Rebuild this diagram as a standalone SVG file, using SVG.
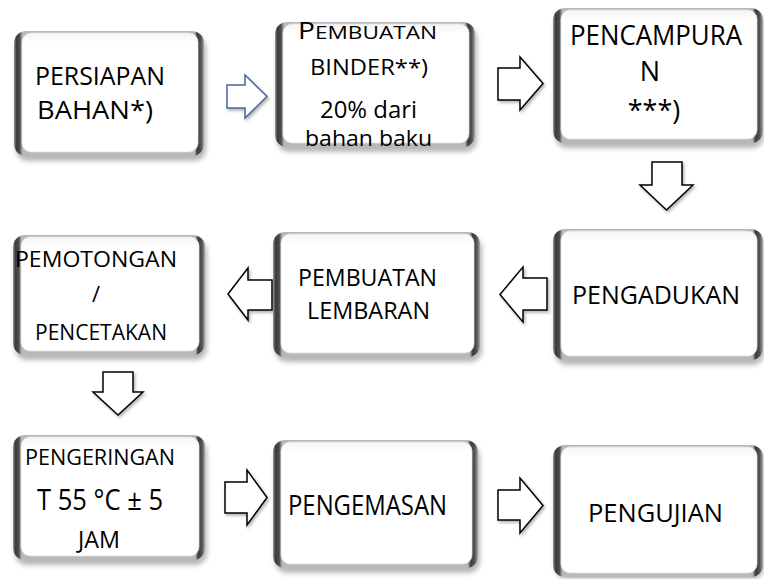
<svg xmlns="http://www.w3.org/2000/svg" width="764" height="579" viewBox="0 0 764 579">
<defs>
<linearGradient id="frameGrad" x1="0" y1="0" x2="1" y2="0">
<stop offset="0" stop-color="#9a9a9a"/>
<stop offset="0.012" stop-color="#3c3c3c"/>
<stop offset="0.03" stop-color="#4a4a4a"/>
<stop offset="0.045" stop-color="#b8b8b8"/>
<stop offset="0.95" stop-color="#b8b8b8"/>
<stop offset="0.965" stop-color="#3a3a3a"/>
<stop offset="0.985" stop-color="#555"/>
<stop offset="1" stop-color="#aaa"/>
</linearGradient>
<linearGradient id="innerGrad" x1="0" y1="0" x2="0" y2="1">
<stop offset="0" stop-color="#f4f4f4"/>
<stop offset="0.08" stop-color="#fff"/>
<stop offset="1" stop-color="#fff"/>
</linearGradient>
<filter id="blur" x="-10%" y="-10%" width="120%" height="130%">
<feGaussianBlur stdDeviation="2.5"/>
</filter>
<filter id="ashadow" x="-20%" y="-20%" width="150%" height="150%">
<feDropShadow dx="1.5" dy="2" stdDeviation="1.5" flood-color="#000" flood-opacity="0.3"/>
</filter>
</defs>
<style>
.shadow{fill:#7a7a7a;opacity:0.55;filter:url(#blur)}
.frame{fill:url(#frameGrad)}
.inner{fill:url(#innerGrad);stroke:#e2e2e2;stroke-width:0.8}
.t{font-family:"Open Sans","Noto Sans",sans-serif;fill:#000;text-anchor:middle}
.arr{fill:#fff;stroke:#000;stroke-width:1.5;stroke-linejoin:miter;filter:url(#ashadow)}
.arrb{fill:#fff;stroke:#44679b;stroke-width:1.5;filter:url(#ashadow)}
</style>
<rect width="764" height="579" fill="#fff"/>

<g id="connectors">
<path class="arrb" d="M227,85 H245 V75 L267,96.5 L245,118 V108 H227 Z"/>
<path class="arr" d="M498,68 H520 V57 L543,83.5 L520,110 V100 H498 Z"/>
<path class="arr" d="M652,162 H682 V185 H693 L666.5,210 L640,185 H652 Z"/>
<path class="arr" d="M547,278 H523 V267 L500,294.5 L523,322 V310 H547 Z"/>
<path class="arr" d="M272,280 H248 V268 L228,294 L248,320 V310 H272 Z"/>
<path class="arr" d="M103,372 H133 V392 H143 L118,415 L93,392 H103 Z"/>
<path class="arr" d="M225,482 H247 V470 L267,497.5 L247,525 V513 H225 Z"/>
<path class="arr" d="M498,490 H520 V478 L543,505.5 L520,533 V520 H498 Z"/>
</g>

<g id="persiapan">
<rect class="shadow" x="16" y="36" width="190" height="125" rx="12"/>
<rect class="frame" x="14" y="31" width="190" height="125" rx="12"/>
<rect class="inner" x="22" y="33" width="176" height="119" rx="9"/>
<text class="t" font-size="25" x="100" y="85" textLength="130" lengthAdjust="spacingAndGlyphs">PERSIAPAN</text>
<text class="t" font-size="25" x="95" y="119" textLength="116" lengthAdjust="spacingAndGlyphs">BAHAN*)</text>
</g>

<g id="pembuatan-binder">
<rect class="shadow" x="277" y="27" width="200" height="125" rx="12"/>
<rect class="frame" x="275" y="22" width="200" height="125" rx="12"/>
<rect class="inner" x="283" y="24" width="186" height="119" rx="9"/>
<text class="t" x="367.5" y="39" textLength="139" lengthAdjust="spacingAndGlyphs"><tspan font-size="23">P</tspan><tspan font-size="18.5">EMBUATAN</tspan></text>
<text class="t" font-size="22" x="369" y="75" textLength="118" lengthAdjust="spacingAndGlyphs">BINDER**)</text>
<text class="t" font-size="24" x="368.5" y="118" textLength="97" lengthAdjust="spacingAndGlyphs">20% dari</text>
<text class="t" font-size="22" x="368.5" y="146" textLength="127" lengthAdjust="spacingAndGlyphs">bahan baku</text>
</g>

<g id="pencampuran">
<rect class="shadow" x="555" y="13" width="209" height="135" rx="12"/>
<rect class="frame" x="553" y="8" width="210" height="135" rx="12"/>
<rect class="inner" x="561" y="10" width="196" height="129" rx="9"/>
<text class="t" font-size="27" x="656" y="45" textLength="172" lengthAdjust="spacingAndGlyphs">PENCAMPURA</text>
<text class="t" font-size="27" x="650" y="81">N</text>
<text class="t" font-size="27" x="654" y="120">***)</text>
</g>

<g id="pengadukan">
<rect class="shadow" x="555" y="234" width="209" height="131" rx="12"/>
<rect class="frame" x="553" y="229" width="210" height="131" rx="12"/>
<rect class="inner" x="561" y="231" width="196" height="125" rx="9"/>
<text class="t" font-size="26" x="656" y="304" textLength="168" lengthAdjust="spacingAndGlyphs">PENGADUKAN</text>
</g>

<g id="pembuatan-lembaran">
<rect class="shadow" x="275" y="237" width="207" height="125" rx="12"/>
<rect class="frame" x="273" y="232" width="207" height="125" rx="12"/>
<rect class="inner" x="281" y="234" width="193" height="119" rx="9"/>
<text class="t" font-size="24" x="367.5" y="286" textLength="139" lengthAdjust="spacingAndGlyphs">PEMBUATAN</text>
<text class="t" font-size="24" x="368.5" y="319" textLength="123" lengthAdjust="spacingAndGlyphs">LEMBARAN</text>
</g>

<g id="pemotongan">
<rect class="shadow" x="15" y="240" width="192" height="120" rx="12"/>
<rect class="frame" x="13" y="235" width="192" height="120" rx="12"/>
<rect class="inner" x="21" y="237" width="178" height="114" rx="9"/>
<text class="t" font-size="22" x="96" y="267" textLength="162" lengthAdjust="spacingAndGlyphs">PEMOTONGAN</text>
<text class="t" font-size="22" x="96" y="302">/</text>
<text class="t" font-size="22" x="101" y="340" textLength="132" lengthAdjust="spacingAndGlyphs">PENCETAKAN</text>
</g>

<g id="pengeringan">
<rect class="shadow" x="15" y="440" width="192" height="125" rx="12"/>
<rect class="frame" x="13" y="435" width="192" height="125" rx="12"/>
<rect class="inner" x="21" y="437" width="178" height="119" rx="9"/>
<text class="t" font-size="22" x="100" y="465" textLength="150" lengthAdjust="spacingAndGlyphs">PENGERINGAN</text>
<text class="t" font-size="30" x="100" y="510" textLength="126" lengthAdjust="spacingAndGlyphs">T 55 °C ± 5</text>
<text class="t" font-size="23" x="99" y="548" textLength="42" lengthAdjust="spacingAndGlyphs">JAM</text>
</g>

<g id="pengemasan">
<rect class="shadow" x="275" y="445" width="205" height="128" rx="12"/>
<rect class="frame" x="273" y="440" width="205" height="128" rx="12"/>
<rect class="inner" x="281" y="442" width="191" height="122" rx="9"/>
<text class="t" font-size="27" x="367.5" y="515" textLength="159" lengthAdjust="spacingAndGlyphs">PENGEMASAN</text>
</g>

<g id="pengujian">
<rect class="shadow" x="555" y="449" width="209" height="130" rx="12"/>
<rect class="frame" x="553" y="445" width="210" height="132" rx="12"/>
<rect class="inner" x="561" y="447" width="196" height="126" rx="9"/>
<text class="t" font-size="26" x="655.5" y="522" textLength="135" lengthAdjust="spacingAndGlyphs">PENGUJIAN</text>
</g>
</svg>
